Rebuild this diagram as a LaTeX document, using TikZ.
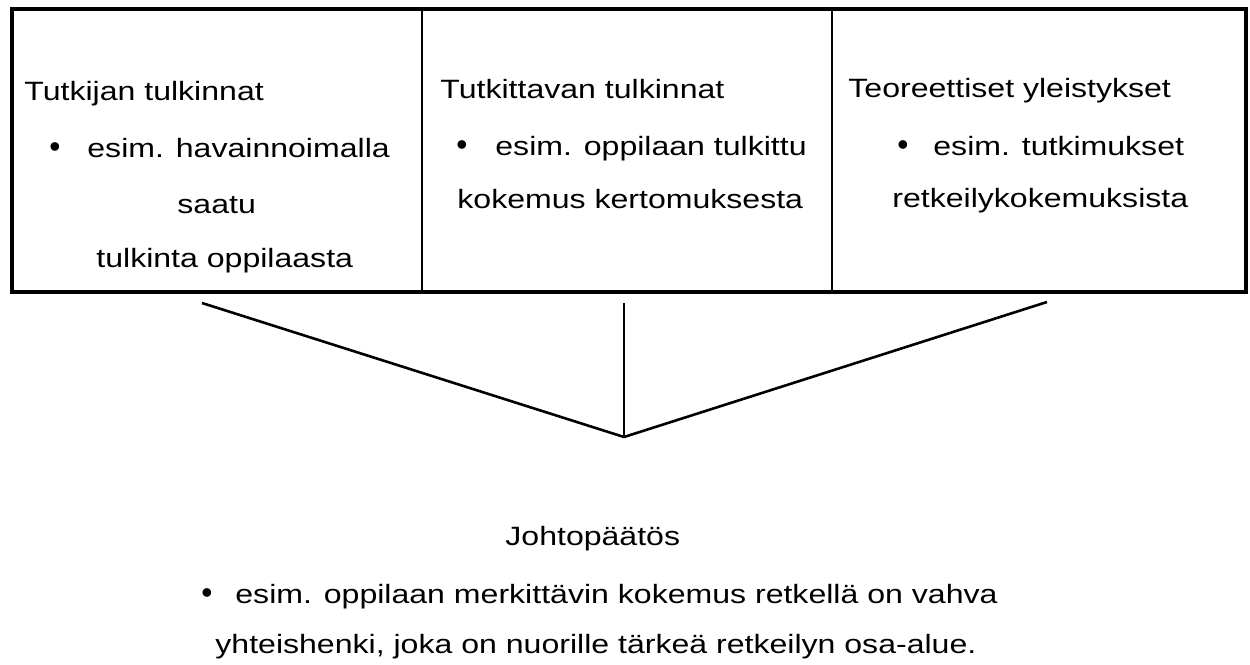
\documentclass[tikz,border=0pt]{standalone}
\usepackage{fontspec}
\setmainfont{Liberation Sans}
\usepackage{graphicx}
\newcommand{\wide}[1]{\scalebox{1.21}[1]{#1}}
\newcommand{\blt}{\scalebox{1.2}[1.2]{•}}
\tikzstyle{cell}=[draw=black,line width=1.25pt,minimum height=140.5pt,inner sep=0pt]
\tikzstyle{txt}=[anchor=base west,inner sep=0pt,font=\fontsize{13.25pt}{16pt}\selectfont]
\tikzstyle{link}=[line width=1.3pt]

\begin{document}
\begin{tikzpicture}[x=0.5pt,y=-0.5pt]
\useasboundingbox (0,0) rectangle (1250,665);
% three boxes
\node[cell,minimum width=204.5pt] (box1) at (217.5,150.5) {};
\node[cell,minimum width=205pt] (box2) at (627,150.5) {};
\node[cell,minimum width=206.5pt] (box3) at (1038.5,150.5) {};
\draw[line width=1.8pt] (box1.north west) rectangle (box3.south east);

% first box
\node[txt] (head1) at (24,100) {\wide{Tutkijan tulkinnat}};
\node[txt] (dot1) at (49,157) {\blt};
\node[txt] (ex1a) at (87,157) {\wide{esim. havainnoimalla}};
\node[txt] (ex1b) at (177,213) {\wide{saatu}};
\node[txt] (ex1c) at (96,267) {\wide{tulkinta oppilaasta}};

% second box
\node[txt] (head2) at (440,98) {\wide{Tutkittavan tulkinnat}};
\node[txt] (dot2) at (456,155) {\blt};
\node[txt] (ex2a) at (495,155) {\wide{esim. oppilaan tulkittu}};
\node[txt] (ex2b) at (457,208) {\wide{kokemus kertomuksesta}};

% third box
\node[txt] (head3) at (848,97) {\wide{Teoreettiset yleistykset}};
\node[txt] (dot3) at (897,155) {\blt};
\node[txt] (ex3a) at (933,155) {\wide{esim. tutkimukset}};
\node[txt] (ex3b) at (892,207) {\wide{retkeilykokemuksista}};

% conclusion
\node[txt] (concl) at (505,545) {\wide{Johtopäätös}};
\node[txt] (dot4) at (201,603) {\blt};
\node[txt] (ex4a) at (235,603) {\wide{esim. oppilaan merkittävin kokemus retkellä on vahva}};
\node[txt] (ex4b) at (215,653) {\wide{yhteishenki, joka on nuorille tärkeä retkeilyn osa-alue.}};

% lines to the conclusion
\coordinate (apex) at (624,437);
\coordinate (from1) at (202,303);
\coordinate (from2) at (624,303);
\coordinate (from3) at (1047,302);
\draw[link] (from1) -- (apex) -- (from3);
\draw[link] (from2) -- (apex);
\end{tikzpicture}
\end{document}
